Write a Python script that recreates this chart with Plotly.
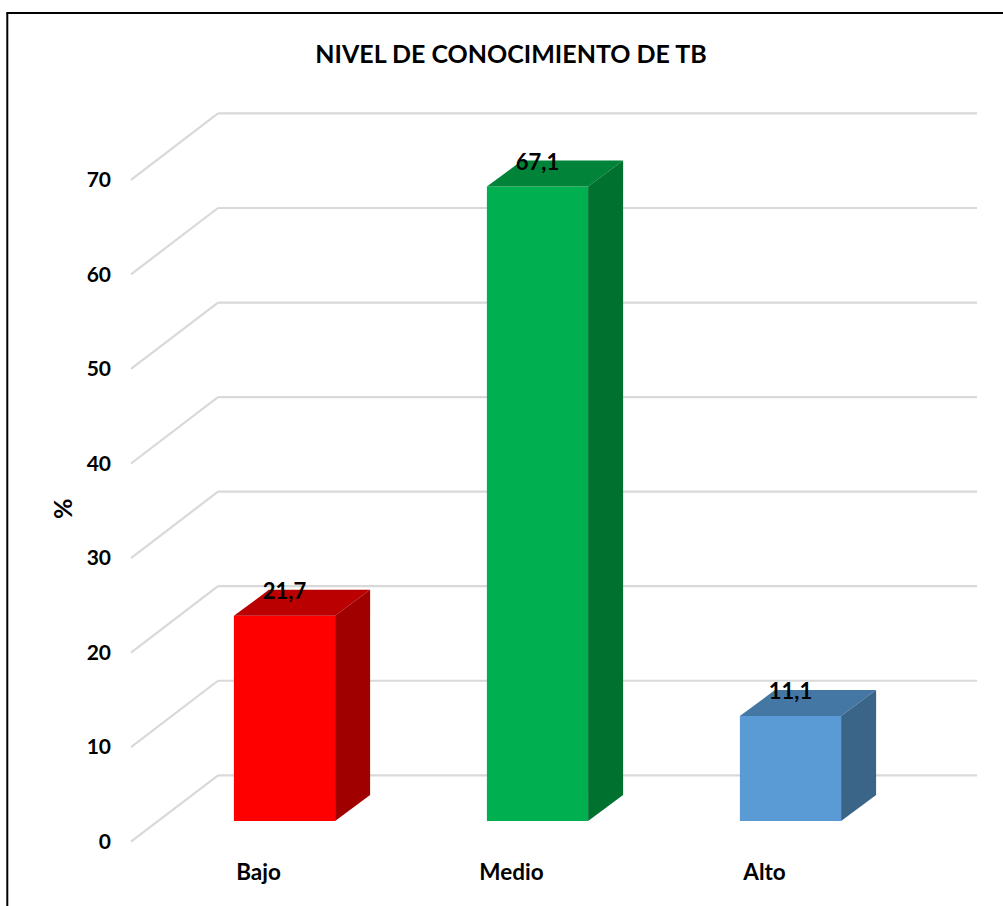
import plotly.graph_objects as go

TITLE = "NIVEL DE CONOCIMIENTO DE TB"
categories = ["Bajo", "Medio", "Alto"]
values = [21.7, 67.1, 11.1]
y_ticks = [0, 10, 20, 30, 40, 50, 60, 70]
front_colors = ["#FF0000", "#00B050", "#5B9BD5"]
top_colors = ["#BA0000", "#018339", "#4577A4"]
side_colors = ["#A00000", "#00712F", "#3A6488"]

W, H = 1003, 906
PX_X = 253.0      # pixels per category step
PX_Y = 9.455      # pixels per percent
X0_PX, Y0_PX = 284.5, 821.0
BAR_W = 0.4
DEPTH_X = 35 / PX_X
DEPTH_Y = 26 / PX_Y
WALL_X0 = (218 - X0_PX) / PX_X
WALL_X1 = (977 - X0_PX) / PX_X
WALL_DY = (Y0_PX - 775.3) / PX_Y
FLOOR_X = (131 - X0_PX) / PX_X
FLOOR_DY = (Y0_PX - 841.7) / PX_Y
LABEL_DY = 22.5 / PX_Y
FONT = "Lato, Carlito, Calibri, sans-serif"

x_range = [(0 - X0_PX) / PX_X, (W - X0_PX) / PX_X]
y_range = [(Y0_PX - H) / PX_Y, Y0_PX / PX_Y]
xs = list(range(len(categories)))

fig = go.Figure()

# front faces
fig.add_trace(go.Bar(x=xs, y=values, width=BAR_W, marker=dict(color=front_colors, line=dict(width=0)), hoverinfo="skip"))

# top and side faces
for x, v, tc, sc in zip(xs, values, top_colors, side_colors):
    l, r = x - BAR_W / 2, x + BAR_W / 2
    fig.add_trace(go.Scatter(x=[l, r, r + DEPTH_X, l + DEPTH_X, l], y=[v, v, v + DEPTH_Y, v + DEPTH_Y, v],
                             mode="lines", line=dict(width=0), fill="toself", fillcolor=tc, hoverinfo="skip"))
    fig.add_trace(go.Scatter(x=[r, r + DEPTH_X, r + DEPTH_X, r, r], y=[0, DEPTH_Y, v + DEPTH_Y, v, 0],
                             mode="lines", line=dict(width=0), fill="toself", fillcolor=sc, hoverinfo="skip"))

# data labels
fig.add_trace(go.Scatter(x=xs, y=[v + LABEL_DY for v in values], mode="text",
                         text=[str(v).replace(".", ",") for v in values], textposition="middle center",
                         textfont=dict(family=FONT, size=22, color="black", weight=700), hoverinfo="skip"))

# keeps the offset label axes alive
fig.add_trace(go.Scatter(x=xs, y=[None] * len(xs), xaxis="x2", yaxis="y2", mode="lines", hoverinfo="skip"))

# wall gridlines and floor diagonals
shapes = []
for t in y_ticks:
    g = dict(type="line", xref="x", yref="y", layer="below", line=dict(color="#D9D9D9", width=2.2))
    shapes.append(dict(g, x0=FLOOR_X, y0=t + FLOOR_DY, x1=WALL_X0, y1=t + WALL_DY))
    shapes.append(dict(g, x0=WALL_X0, y0=t + WALL_DY, x1=WALL_X1, y1=t + WALL_DY))

# frame (left and top only)
frame = dict(color="black", width=2)
shapes.append(dict(type="line", xref="paper", yref="paper", x0=7.3 / W, x1=7.3 / W, y0=0, y1=1 - 13 / H, line=frame))
shapes.append(dict(type="line", xref="paper", yref="paper", x0=6.3 / W, x1=1, y0=1 - 13 / H, y1=1 - 13 / H, line=frame))

tick_font = dict(family=FONT, size=21, color="black", weight=700)
cat_font = dict(family=FONT, size=22.5, color="black", weight=700)
cat_shift = 26 / PX_X
y2_zero_px = 841.5

fig.update_layout(
    width=W, height=H, margin=dict(l=0, r=0, t=0, b=0, pad=0),
    paper_bgcolor="white", plot_bgcolor="white", showlegend=False,
    shapes=shapes,
    title=dict(text=TITLE, x=511 / W, y=1 - 54 / H, xanchor="center", yanchor="middle",
               font=dict(family=FONT, size=25, color="black", weight=700)),
    xaxis=dict(range=x_range, visible=False, fixedrange=True),
    yaxis=dict(range=y_range, visible=False, fixedrange=True),
    xaxis2=dict(overlaying="x", anchor="free", position=1 - 856 / H, side="bottom",
                range=[x_range[0] + cat_shift, x_range[1] + cat_shift],
                tickmode="array", tickvals=xs, ticktext=categories, tickfont=cat_font,
                showgrid=False, zeroline=False, showline=False, ticks="", fixedrange=True),
    yaxis2=dict(overlaying="y", anchor="free", position=111 / W, side="left",
                range=[(y2_zero_px - H) / PX_Y, y2_zero_px / PX_Y],
                tickmode="array", tickvals=y_ticks, tickfont=tick_font,
                showgrid=False, zeroline=False, showline=False, ticks="", fixedrange=True),
    annotations=[dict(text="%", xref="paper", yref="paper", x=62 / W, y=1 - 509 / H, textangle=-90,
                      showarrow=False, xanchor="center", yanchor="middle",
                      font=dict(family=FONT, size=25, color="black", weight=700))],
)

fig.write_html("out.html", config={"displayModeBar": False},
               post_script="document.body.style.margin='0';document.body.style.overflow='hidden';")
